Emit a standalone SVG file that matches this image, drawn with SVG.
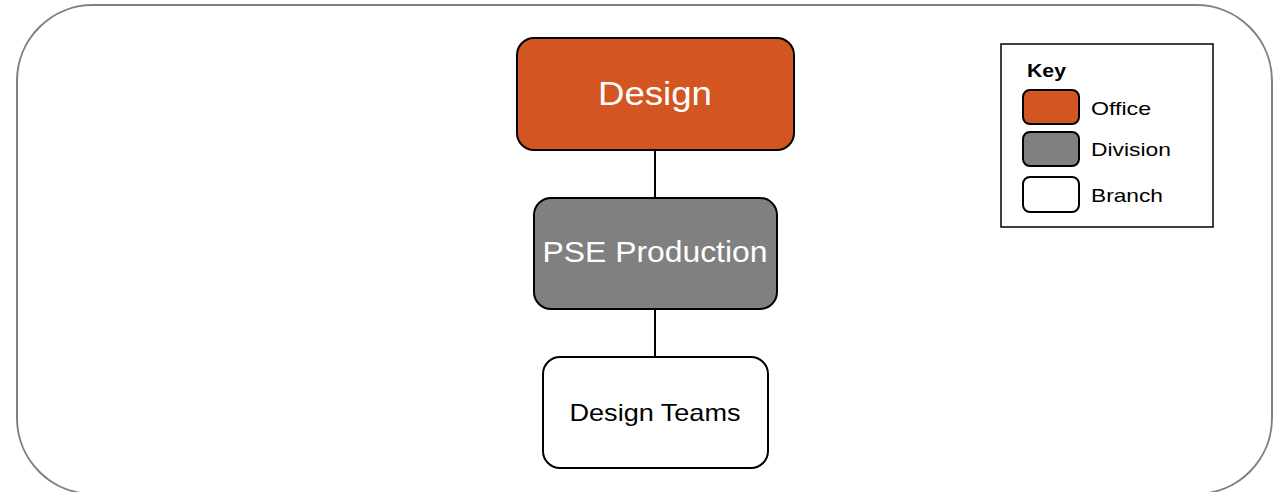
<svg xmlns="http://www.w3.org/2000/svg" width="1273" height="492" viewBox="0 0 1273 492">
<style>
.node{stroke:#000;stroke-width:2}
.office{fill:#D35521}
.division{fill:#808080}
.branch{fill:#fff}
text{font-family:"Liberation Sans",Arial,sans-serif}
.lbl{fill:#fff;text-anchor:middle}
.key{font-size:19px;fill:#000}
.conn{stroke:#000;stroke-width:2;fill:none}
</style>
<rect x="17" y="5" width="1255" height="489" rx="76" ry="76" fill="#fff" stroke="#808080" stroke-width="2"/>
<g id="connectors">
<line class="conn" x1="655" y1="150" x2="655" y2="198"/>
<line class="conn" x1="655" y1="309" x2="655" y2="356"/>
</g>
<g id="design">
<rect class="node office" x="517" y="38" width="277" height="112" rx="17"/>
<text class="lbl" x="655" y="105" font-size="34" textLength="114" lengthAdjust="spacingAndGlyphs">Design</text>
</g>
<g id="pse-production">
<rect class="node division" x="534" y="198" width="243" height="111" rx="17"/>
<text class="lbl" x="655" y="262" font-size="29" textLength="225" lengthAdjust="spacingAndGlyphs">PSE Production</text>
</g>
<g id="design-teams">
<rect class="node branch" x="543" y="357" width="225" height="111" rx="17"/>
<text x="655" y="421" font-size="24" text-anchor="middle" fill="#000" textLength="171" lengthAdjust="spacingAndGlyphs">Design Teams</text>
</g>
<g id="key">
<rect x="1001" y="44" width="212" height="183" fill="#fff" stroke="#000" stroke-width="1.5"/>
<text x="1027" y="77" font-size="18" font-weight="bold" textLength="39" lengthAdjust="spacingAndGlyphs">Key</text>
<rect class="node office" x="1023" y="90" width="56" height="34" rx="7"/>
<text class="key" x="1091" y="115" textLength="60" lengthAdjust="spacingAndGlyphs">Office</text>
<rect class="node division" x="1023" y="132" width="56" height="34" rx="7"/>
<text class="key" x="1091" y="156" textLength="80" lengthAdjust="spacingAndGlyphs">Division</text>
<rect class="node branch" x="1023" y="177" width="56" height="35" rx="7"/>
<text class="key" x="1091" y="202" textLength="72" lengthAdjust="spacingAndGlyphs">Branch</text>
</g>
</svg>
